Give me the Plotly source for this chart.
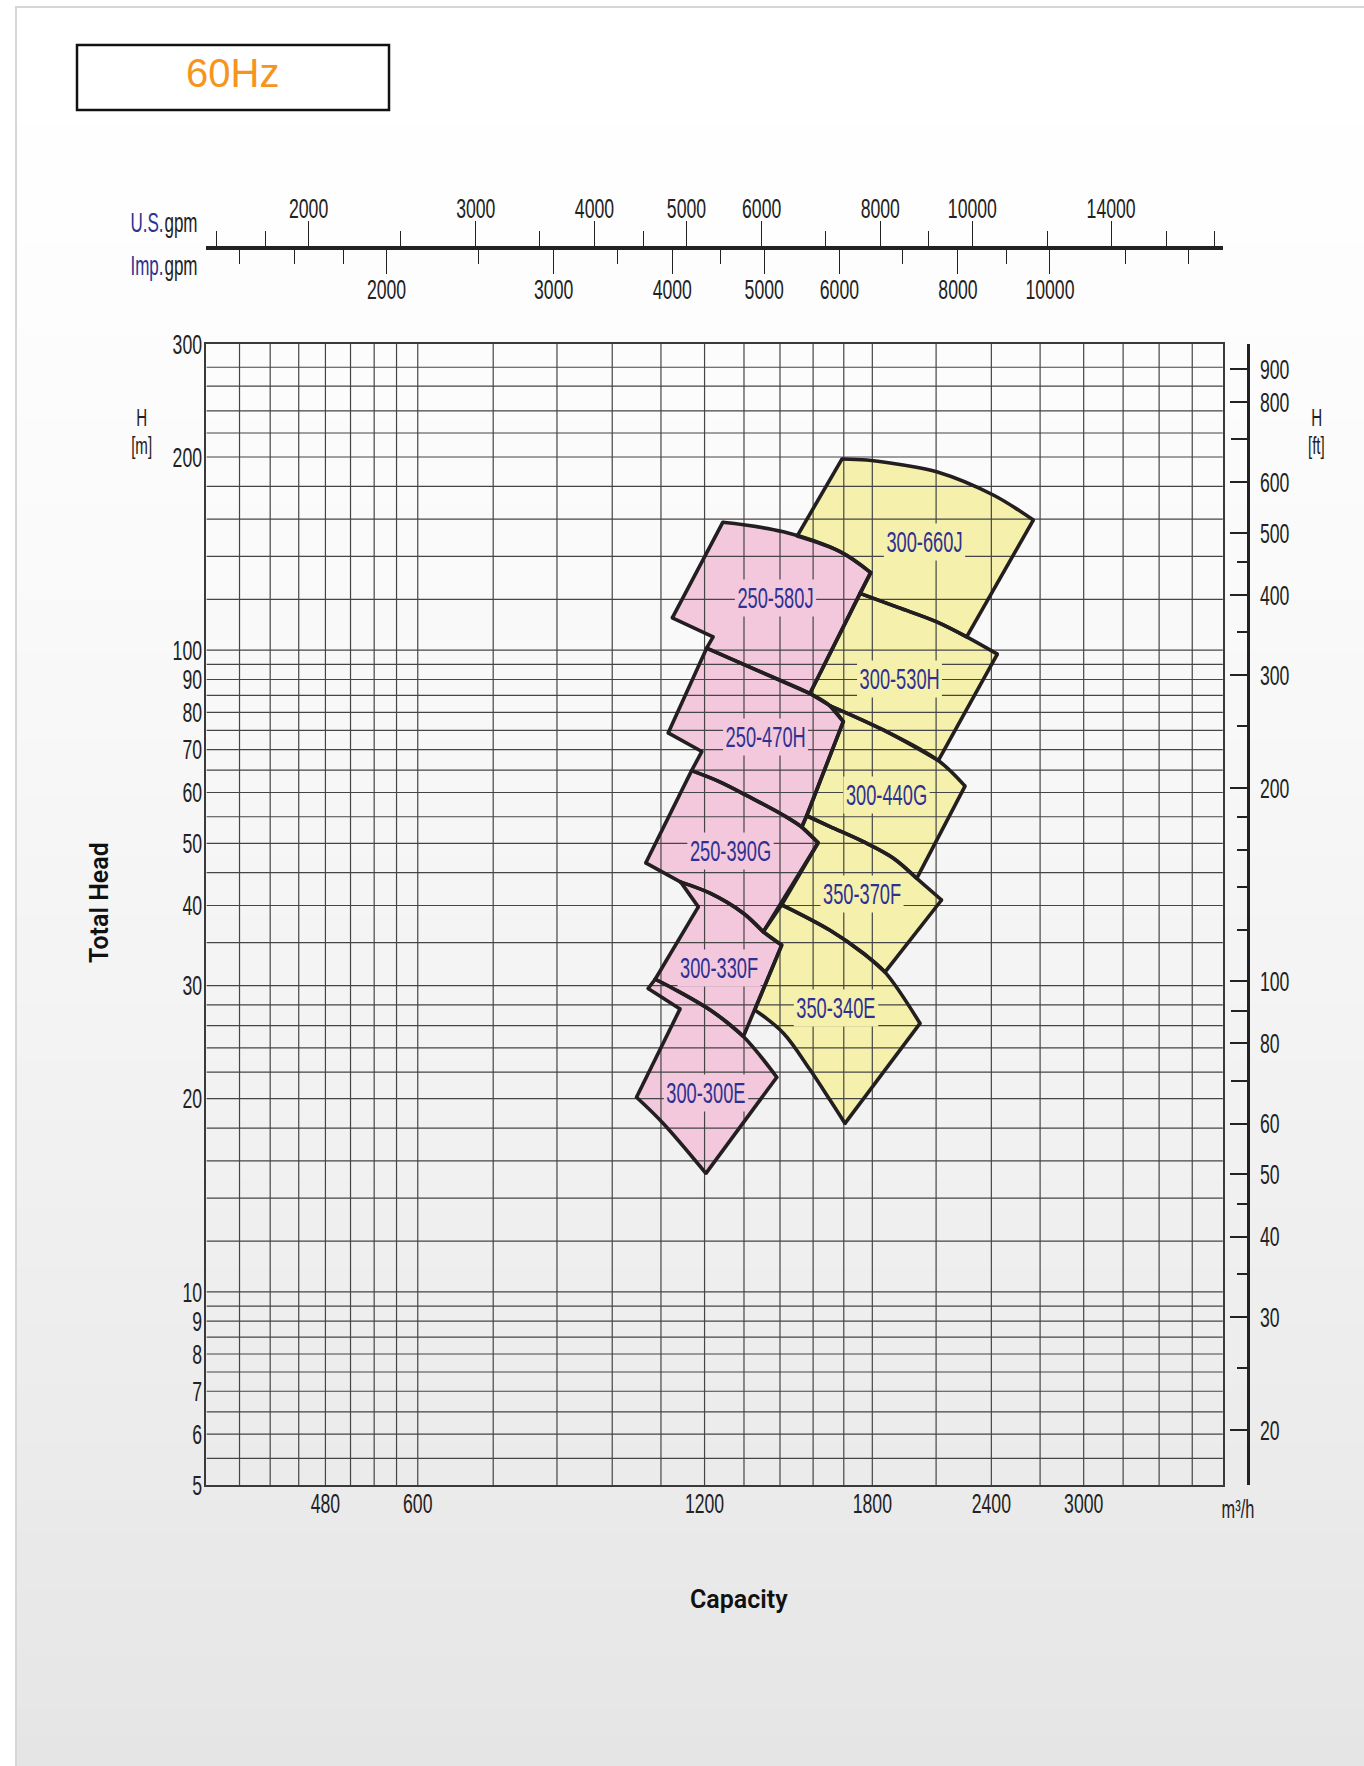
import math
import plotly.graph_objects as go

W, HT = 1364, 1766

# ---------------- axis values ----------------
Q_MIN, Q_MAX = 360, 4200          # m3/h
H_MIN, H_MAX = 5, 300             # m
US_MIN, US_MAX = 1561, 18360      # U.S. gpm span of top scale
IMP_MIN, IMP_MAX = 1292, 15213    # Imp. gpm span of top scale
FT_PER_M = 1 / 0.3048

x_grid = [390, 420, 450, 480, 510, 540, 570, 600, 720, 840, 960, 1080, 1200, 1320,
          1440, 1560, 1680, 1800, 2100, 2400, 2700, 3000, 3300, 3600, 3900]
x_labels = [480, 600, 1200, 1800, 2400, 3000]
y_grid = [5.5, 6, 6.5, 7, 7.5, 8, 8.5, 9, 9.5, 10, 12, 14, 16, 18, 20, 22, 24, 26, 28, 30,
          35, 40, 45, 50, 55, 60, 65, 70, 75, 80, 85, 90, 95, 100, 120, 140, 160, 180, 200,
          218, 236, 258, 276]
y_labels = [5, 6, 7, 8, 9, 10, 20, 30, 40, 50, 60, 70, 80, 90, 100, 200, 300]
ft_labelled = [20, 30, 40, 50, 60, 80, 100, 200, 300, 400, 500, 600, 800, 900]
ft_unlabelled = [70, 90, 700]
ft_minor = [25, 35, 45, 120, 140, 160, 180, 250, 350, 450]
us_major = [2000, 3000, 4000, 5000, 6000, 8000, 10000, 14000]
us_minor = [1600, 1800, 2500, 3500, 4500, 7000, 9000, 12000, 16000, 18000]
imp_major = [2000, 3000, 4000, 5000, 6000, 8000, 10000]
imp_minor = [1400, 1600, 1800, 2500, 3500, 4500, 7000, 9000, 12000, 14000]

# ---------------- pump ranges (visible outlines, Q m3/h, H m) ----------------
Q_300_660J = [1673, 1776, 1924, 2103, 2411, 2656, 2261, 2103, 1915, 1747, 1793, 1665, 1501]
H_300_660J = [198.6, 197.9, 194.7, 189.7, 174.5, 159.5, 104.9, 110.7, 116.6, 122.6, 132.1, 142.4, 150.6]

Q_300_530H = [1747, 1915, 2103, 2261, 2435, 2111, 1848, 1625, 1548]
H_300_530H = [122.6, 116.6, 110.7, 104.9, 98.6, 67.3, 75.1, 81.9, 85.6]

Q_300_440G = [1625, 1848, 2111, 2252, 2004, 1894, 1761, 1625, 1536, 1678]
H_300_440G = [81.9, 75.1, 67.3, 61.4, 44.1, 47.4, 50.3, 53.1, 55.2, 77.4]

Q_350_370F = [1536, 1625, 1761, 1894, 2004, 2128, 1856, 1761, 1625, 1446, 1579, 1518]
H_350_370F = [55.2, 53.1, 50.3, 47.4, 44.1, 40.8, 31.5, 33.7, 36.6, 40.1, 50.1, 53.0]

Q_350_340E = [1446, 1625, 1761, 1856, 2020, 1685, 1625, 1548, 1452, 1355, 1446, 1383]
H_350_340E = [40.1, 36.6, 33.7, 31.5, 26.2, 18.3, 19.9, 22.2, 25.3, 27.5, 34.7, 36.4]

Q_250_580J = [1254, 1452, 1665, 1793, 1548, 1361, 1206, 1225, 1110]
H_250_580J = [158.2, 152.9, 142.4, 132.1, 85.6, 93.1, 100.7, 104.9, 112.3]

Q_250_470H = [1206, 1361, 1548, 1625, 1678, 1536, 1518, 1452, 1339, 1240, 1163, 1192, 1099]
H_250_470H = [100.7, 93.1, 85.6, 81.9, 77.4, 55.2, 53.0, 55.3, 59.0, 62.5, 64.9, 69.5, 74.3]

Q_250_390G = [1163, 1240, 1339, 1452, 1518, 1579, 1383, 1318, 1216, 1133, 1041]
H_250_390G = [64.9, 62.5, 59.0, 55.3, 53.0, 50.1, 36.4, 38.9, 41.8, 43.5, 46.6]

Q_300_330F = [1133, 1216, 1318, 1383, 1446, 1318, 1225, 1112, 1065, 1182]
H_300_330F = [43.5, 41.8, 38.9, 36.4, 34.7, 25.0, 27.3, 29.7, 30.7, 39.8]

Q_300_300E = [1065, 1112, 1225, 1318, 1429, 1204, 1086, 1018, 1131, 1047]
H_300_300E = [30.7, 29.7, 27.3, 25.0, 21.6, 15.3, 18.3, 20.1, 27.6, 29.7]

# indices of outline points that lie inside a curved (impeller) arc
ARC_300_660J = [1, 2, 3, 4, 7, 8, 11]
ARC_300_530H = [1, 2, 3, 6]
ARC_300_440G = [1, 2, 5, 6, 7]
ARC_350_370F = [1, 2, 3, 4, 7, 8]
ARC_350_340E = [1, 2, 3, 6, 7, 8]
ARC_250_580J = [1, 2, 5]
ARC_250_470H = [1, 2, 3, 7, 8, 9]
ARC_250_390G = [1, 2, 3, 4, 7, 8]
ARC_300_330F = [1, 2, 3, 6, 7]
ARC_300_300E = [1, 2, 3, 6]

model_names = ["300-660J", "300-530H", "300-440G", "350-370F", "350-340E",
               "250-580J", "250-470H", "250-390G", "300-330F", "300-300E"]
model_groups = ["Y", "Y", "Y", "Y", "Y", "P", "P", "P", "P", "P"]
label_Q = [2044, 1924, 1861, 1754, 1648, 1426, 1389, 1277, 1242, 1204]
label_H = [147.6, 90.2, 59.5, 41.7, 27.7, 120.8, 73.1, 48.7, 32.0, 20.4]

outlines_Q = [Q_300_660J, Q_300_530H, Q_300_440G, Q_350_370F, Q_350_340E,
              Q_250_580J, Q_250_470H, Q_250_390G, Q_300_330F, Q_300_300E]
outlines_H = [H_300_660J, H_300_530H, H_300_440G, H_350_370F, H_350_340E,
              H_250_580J, H_250_470H, H_250_390G, H_300_330F, H_300_300E]
outlines_arc = [ARC_300_660J, ARC_300_530H, ARC_300_440G, ARC_350_370F, ARC_350_340E,
                ARC_250_580J, ARC_250_470H, ARC_250_390G, ARC_300_330F, ARC_300_300E]

# ---------------- styling ----------------
# "NarrowMark" is not a real font: it tags texts that get condensed after drawing.
NARROW = "NarrowMark, Liberation Sans, Arial, sans-serif"
FILL = {"Y": "#F5F0AB", "P": "#F3C8DC"}
TXT = "#222222"
BLUE = "#2E3192"
EDGE = "#231F20"
EDGE_W = 3.6


def fx(p):
    return p / W


def fy(p):
    return 1 - p / HT


fig = go.Figure()

# fills
for q, h, g in zip(outlines_Q, outlines_H, model_groups):
    fig.add_trace(go.Scatter(x=q + [q[0]], y=h + [h[0]], mode="lines", fill="toself",
                             fillcolor=FILL[g], line=dict(width=0.5, color=FILL[g]),
                             hoverinfo="skip", showlegend=False))

# grid on top of the fills
gx, gy = [], []
for v in x_grid:
    gx += [v, v, None]
    gy += [H_MIN, H_MAX, None]
for v in y_grid:
    gx += [Q_MIN, Q_MAX, None]
    gy += [v, v, None]
fig.add_trace(go.Scatter(x=gx, y=gy, mode="lines", line=dict(color="#454545", width=1.2),
                         hoverinfo="skip", showlegend=False))

# outlines: straight edges + smooth arcs
lin_x, lin_y, spl_x, spl_y, cor_x, cor_y = [], [], [], [], [], []
for q, h, arc in zip(outlines_Q, outlines_H, outlines_arc):
    n = len(q)
    corners = [i for i in range(n) if i not in arc]
    for k, c0 in enumerate(corners):
        c1 = corners[(k + 1) % len(corners)]
        idx = [c0]
        j = (c0 + 1) % n
        while j != c1:
            idx.append(j)
            j = (j + 1) % n
        idx.append(c1)
        xs = [q[i] for i in idx]
        ys = [h[i] for i in idx]
        if len(idx) > 2:
            spl_x += xs + [None]
            spl_y += ys + [None]
        else:
            lin_x += xs + [None]
            lin_y += ys + [None]
    cor_x += [q[i] for i in corners]
    cor_y += [h[i] for i in corners]

fig.add_trace(go.Scatter(x=lin_x, y=lin_y, mode="lines", line=dict(color=EDGE, width=EDGE_W),
                         hoverinfo="skip", showlegend=False))
fig.add_trace(go.Scatter(x=spl_x, y=spl_y, mode="lines",
                         line=dict(color=EDGE, width=EDGE_W, shape="spline", smoothing=1),
                         hoverinfo="skip", showlegend=False))
fig.add_trace(go.Scatter(x=cor_x, y=cor_y, mode="markers",
                         marker=dict(color=EDGE, size=EDGE_W, line=dict(width=0)),
                         hoverinfo="skip", showlegend=False))

fig.add_trace(go.Scatter(x=[], y=[], xaxis="x2", yaxis="y", showlegend=False, hoverinfo="skip"))
fig.add_trace(go.Scatter(x=[], y=[], xaxis="x3", yaxis="y", showlegend=False, hoverinfo="skip"))
fig.add_trace(go.Scatter(x=[], y=[], xaxis="x", yaxis="y2", showlegend=False, hoverinfo="skip"))
fig.add_trace(go.Scatter(x=[], y=[], xaxis="x", yaxis="y3", showlegend=False, hoverinfo="skip"))

# ---------------- background shapes ----------------
shapes = []
n_bands = 60
top, bot = 7, HT
for i in range(n_bands):
    y0 = top + (bot - top) * i / n_bands
    y1 = top + (bot - top) * (i + 1) / n_bands + 1
    t = (i + 0.5) / n_bands
    c = int(round(255 - 26 * t ** 1.4))
    shapes.append(dict(type="rect", xref="paper", yref="paper", x0=fx(16), x1=1.02,
                       y0=fy(y1), y1=fy(y0), fillcolor=f"rgb({c},{c},{c})",
                       line=dict(width=0), layer="below"))
shapes.append(dict(type="rect", xref="paper", yref="paper", x0=fx(16), x1=1.05,
                   y0=-0.05, y1=fy(7), line=dict(color="#d6d6d6", width=2),
                   fillcolor="rgba(0,0,0,0)", layer="below"))
shapes.append(dict(type="rect", xref="paper", yref="paper", x0=fx(77), x1=fx(389),
                   y0=fy(110), y1=fy(45), line=dict(color="#111111", width=2.5),
                   fillcolor="white", layer="below"))

# ---------------- annotations ----------------
ann = []
for name, q, h, g in zip(model_names, label_Q, label_H, model_groups):
    ann.append(dict(x=math.log10(q), y=math.log10(h), xref="x", yref="y", text=name,
                    showarrow=False, xanchor="center", yanchor="middle",
                    font=dict(family=NARROW, size=29, color=BLUE),
                    bgcolor=FILL[g], borderpad=2))


def pann(x, y, text, **kw):
    d = dict(x=fx(x), y=fy(y), xref="paper", yref="paper", text=text, showarrow=False,
             xanchor="center", yanchor="middle")
    d.update(kw)
    return d


ann += [
    pann(233, 73, "60Hz",
         font=dict(family="Liberation Sans, Arial, sans-serif", size=40, color="#F7941D")),
    pann(199, 223, "gpm", xanchor="right", align="right", borderpad=0,
         font=dict(family=NARROW, size=27, color=TXT)),
    pann(165, 223, "U.S.", xanchor="right", align="right", borderpad=0,
         font=dict(family=NARROW, size=27, color=BLUE)),
    pann(199, 266, "gpm", xanchor="right", align="right", borderpad=0,
         font=dict(family=NARROW, size=27, color=TXT)),
    pann(165, 266, "Imp.", xanchor="right", align="right", borderpad=0,
         font=dict(family=NARROW, size=27, color=BLUE)),
    pann(141, 417, "H", borderpad=0, font=dict(family=NARROW, size=24, color=TXT)),
    pann(141, 445, "[m]", borderpad=0, font=dict(family=NARROW, size=24, color=TXT)),
    pann(1316, 417, "H", borderpad=0, font=dict(family=NARROW, size=24, color=TXT)),
    pann(1316, 445, "[ft]", borderpad=0, font=dict(family=NARROW, size=24, color=TXT)),
    pann(99, 903, "Total Head", textangle=-90,
         font=dict(family="Roboto, Liberation Sans, sans-serif", size=25, color="#111111",
                   weight=600)),
    pann(739, 1599, "Capacity",
         font=dict(family="Roboto, Liberation Sans, sans-serif", size=25, color="#111111",
                   weight=600)),
    pann(1238, 1509, "m³/h", font=dict(family=NARROW, size=26, color=TXT)),
]

tickfont = dict(family=NARROW, size=28, color=TXT)
xdom = [fx(206.4), fx(1222.9)]
ydom = [fy(1485), fy(344)]
ft_range = [math.log10(H_MIN * FT_PER_M), math.log10(H_MAX * FT_PER_M)]

fig.update_layout(
    width=W, height=HT, autosize=False,
    margin=dict(l=0, r=0, t=0, b=0, pad=0, autoexpand=False),
    paper_bgcolor="white", plot_bgcolor="rgba(0,0,0,0)",
    showlegend=False, shapes=shapes, annotations=ann,
    xaxis=dict(domain=xdom, type="log", range=[math.log10(Q_MIN), math.log10(Q_MAX)],
               tickvals=x_labels, ticktext=[str(v) for v in x_labels], ticks="",
               showgrid=False, zeroline=False, showline=True, mirror=True,
               linecolor="#3a3a3a", linewidth=1.5, tickfont=tickfont,
               ticklabelstandoff=-7, automargin=False, fixedrange=True),
    yaxis=dict(domain=ydom, type="log", range=[math.log10(H_MIN), math.log10(H_MAX)],
               tickvals=y_labels, ticktext=[str(v) for v in y_labels], ticks="",
               showgrid=False, zeroline=False, showline=True, mirror=True,
               linecolor="#3a3a3a", linewidth=1.5, tickfont=tickfont,
               ticklabelstandoff=-3, automargin=False, fixedrange=True),
    yaxis2=dict(overlaying="y", anchor="free", position=fx(1248.3), side="right",
                type="log", range=ft_range,
                tickvals=ft_labelled, ticktext=[str(v) for v in ft_labelled],
                ticks="inside", ticklen=17, tickwidth=1.5, tickcolor="#222",
                showline=True, linewidth=3, linecolor="#222", showgrid=False,
                zeroline=False, tickfont=tickfont, ticklabelstandoff=4,
                minor=dict(tickmode="array", tickvals=ft_minor, ticks="inside",
                           ticklen=10, tickwidth=1.5, tickcolor="#222", showgrid=False),
                automargin=False, fixedrange=True),
    yaxis3=dict(overlaying="y", anchor="free", position=fx(1248.3), side="right",
                type="log", range=ft_range, tickvals=ft_unlabelled, showticklabels=False,
                ticks="inside", ticklen=17, tickwidth=1.5, tickcolor="#222",
                showline=False, showgrid=False, zeroline=False,
                automargin=False, fixedrange=True),
    xaxis2=dict(overlaying="x", anchor="free", position=fy(248.3), side="top",
                type="log", range=[math.log10(US_MIN), math.log10(US_MAX)],
                tickvals=us_major, ticktext=[str(v) for v in us_major],
                ticks="outside", ticklen=25, tickwidth=1.3, tickcolor="#222",
                showline=True, linewidth=4, linecolor="#222", showgrid=False,
                zeroline=False, tickfont=tickfont, ticklabelstandoff=-8,
                minor=dict(tickmode="array", tickvals=us_minor, ticks="outside",
                           ticklen=15, tickwidth=1.3, tickcolor="#222", showgrid=False),
                automargin=False, fixedrange=True),
    xaxis3=dict(overlaying="x", anchor="free", position=fy(248.3), side="bottom",
                type="log", range=[math.log10(IMP_MIN), math.log10(IMP_MAX)],
                tickvals=imp_major, ticktext=[str(v) for v in imp_major],
                ticks="outside", ticklen=25, tickwidth=1.3, tickcolor="#222",
                showline=False, showgrid=False, zeroline=False, tickfont=tickfont,
                ticklabelstandoff=-9,
                minor=dict(tickmode="array", tickvals=imp_minor, ticks="outside",
                           ticklen=15, tickwidth=1.3, tickcolor="#222", showgrid=False),
                automargin=False, fixedrange=True),
)

# Condense the tagged texts horizontally about their anchor point.
POST = """
document.body.style.margin = '0px';
var gd = document.getElementById('{plot_id}');
var F = 0.63;
gd.querySelectorAll('text').forEach(function (t) {
  var ff = (t.style && t.style.fontFamily) || t.getAttribute('style') || '';
  if (ff.indexOf('NarrowMark') < 0) return;
  var w = t.getBBox().width;
  if (!w) return;
  var ax = parseFloat(t.getAttribute('x'));
  if (isNaN(ax)) ax = 0;
  var tr = t.getAttribute('transform') || '';
  t.setAttribute('transform', tr + ' translate(' + ax + ',0) scale(' + F + ',1) translate(' + (-ax) + ',0)');
  var p = t.parentNode;
  var r = p ? p.querySelector('rect.bg') : null;
  if (r) {
    var rw = parseFloat(r.getAttribute('width'));
    var rx = parseFloat(r.getAttribute('x'));
    if (!isNaN(rw) && !isNaN(rx)) {
      var d = w * (1 - F);
      var anc = t.getAttribute('text-anchor') || 'middle';
      r.setAttribute('width', (rw - d).toFixed(2));
      if (anc === 'end') { r.setAttribute('x', (rx + d).toFixed(2)); }
      else if (anc === 'middle') { r.setAttribute('x', (rx + d / 2).toFixed(2)); }
    }
  }
});
"""

fig.write_html("out.html", post_script=POST, config={"displayModeBar": False})
